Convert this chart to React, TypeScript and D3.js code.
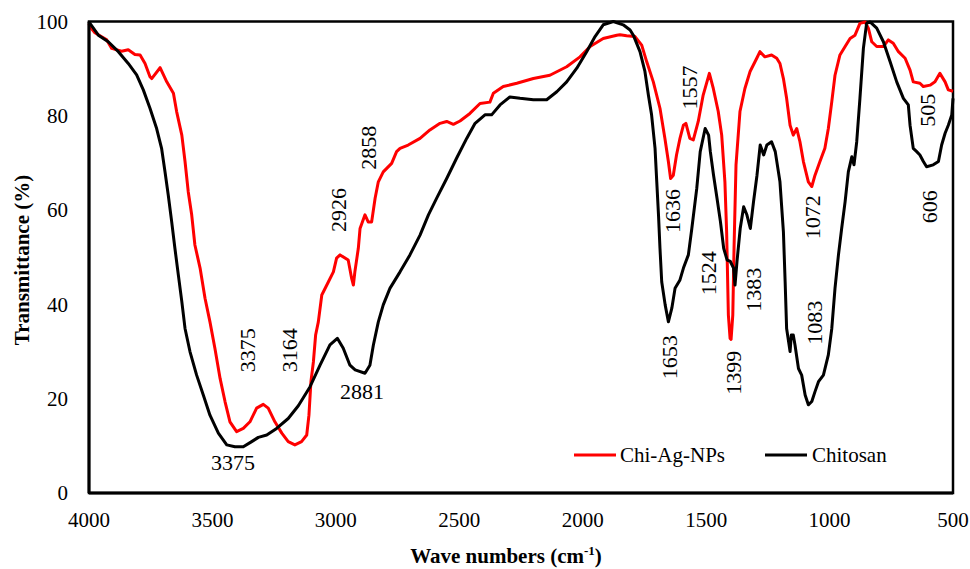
import React from "react";
import * as d3 from "d3";

const xTicks = [4000, 3500, 3000, 2500, 2000, 1500, 1000, 500];
const yTicks = [0, 20, 40, 60, 80, 100];

const chiAgNPs: [number, number][] = [
  [4000, 99.5], [3996, 98.9], [3976, 97.6], [3928, 96.1], [3908, 94.3], [3868, 93.7], [3841, 94], [3814, 93],
  [3793, 92.9], [3773, 91.1], [3753, 88.3], [3746, 87.9], [3712, 90.2], [3685, 87.2], [3658, 84.8], [3645, 80.9],
  [3624, 75.9], [3611, 70.3], [3598, 63.9], [3584, 59], [3571, 52.6], [3550, 47.7], [3530, 41.3], [3510, 36.3],
  [3490, 30.7], [3469, 24.3], [3449, 19.4], [3429, 15.1], [3402, 13], [3375, 13.7], [3348, 15.1], [3321, 18],
  [3294, 18.8], [3274, 18], [3247, 15.1], [3219, 12.7], [3193, 10.9], [3166, 10.2], [3139, 10.9], [3118, 12.3],
  [3109, 16.5], [3101, 23.6], [3091, 27.8], [3082, 33.5], [3071, 36.3], [3057, 42], [3030, 44.8], [3010, 46.9],
  [2997, 49.8], [2983, 50.5], [2950, 49.4], [2936, 45.5], [2929, 44.1], [2923, 46.9], [2909, 51.9], [2902, 56.1],
  [2882, 59], [2869, 57.5], [2855, 57.5], [2841, 62.5], [2828, 66], [2808, 68.1], [2774, 69.9], [2754, 72.4],
  [2740, 73.1], [2707, 73.8], [2659, 75.2], [2619, 77], [2578, 78.4], [2551, 78.8], [2524, 78.2], [2497, 78.9],
  [2457, 80.5], [2416, 82.6], [2376, 82.9], [2362, 84.8], [2322, 86.2], [2267, 86.9], [2200, 87.9], [2133, 88.6],
  [2065, 90.4], [2011, 92.5], [1970, 94.7], [1917, 96.4], [1862, 97.1], [1849, 97.2], [1822, 97], [1788, 96.8],
  [1761, 95], [1741, 91.5], [1714, 87.2], [1687, 81.6], [1667, 75.2], [1653, 70.3], [1644, 66.7], [1633, 67.4],
  [1620, 71.7], [1606, 75.2], [1592, 78], [1582, 78.4], [1566, 75.2], [1552, 74.9], [1532, 78.8], [1512, 84.4],
  [1487, 89], [1471, 85.8], [1451, 80.9], [1437, 75.9], [1424, 66], [1417, 55.4], [1410, 37.8], [1403, 32.8],
  [1399, 32.6], [1392, 37.8], [1387, 51.9], [1379, 69.6], [1363, 80.9], [1343, 85.8], [1322, 89.4], [1295, 92.2],
  [1282, 93.6], [1262, 92.5], [1235, 92.9], [1214, 92.2], [1201, 91.1], [1187, 87.9], [1174, 83.7], [1160, 78],
  [1147, 75.9], [1133, 77.3], [1120, 74.5], [1106, 70.3], [1086, 66], [1072, 65], [1059, 67.4], [1039, 70.3],
  [1019, 73.1], [1005, 77.3], [991, 83], [978, 88.6], [958, 92.9], [937, 94.7], [917, 96.4], [897, 97.1],
  [877, 99.6], [856, 99.9], [843, 98.6], [829, 95.7], [809, 94.7], [782, 94.7], [762, 96.1], [742, 95.4],
  [721, 93.6], [694, 92.2], [674, 89.7], [661, 87.2], [634, 86.9], [620, 86.2], [593, 86.5], [573, 87.2],
  [553, 89], [532, 87.2], [519, 85.5], [500, 85.2],
];

const chitosan: [number, number][] = [
  [4000, 100], [3996, 99.6], [3962, 97.1], [3922, 95.7], [3881, 93.6], [3841, 91.1], [3807, 88.7], [3780, 85.5],
  [3753, 81.6], [3726, 77.3], [3706, 73.1], [3692, 68.1], [3679, 63.2], [3665, 57.5], [3652, 51.9], [3638, 46.2],
  [3624, 40.6], [3611, 34.9], [3591, 30], [3564, 25], [3537, 20.8], [3510, 16.5], [3476, 12.7], [3442, 10.2],
  [3409, 9.8], [3375, 9.8], [3341, 10.9], [3314, 11.8], [3280, 12.3], [3240, 13.7], [3193, 15.8], [3152, 18.5],
  [3105, 22.5], [3064, 27.1], [3024, 31.4], [2994, 32.8], [2970, 30.7], [2943, 27.1], [2922, 26.1], [2882, 25.4],
  [2862, 27.1], [2848, 31.4], [2828, 36.3], [2808, 39.9], [2781, 43.4], [2740, 46.9], [2700, 50.5], [2659, 54.7],
  [2625, 59], [2592, 62.5], [2551, 66.7], [2511, 71], [2470, 75.2], [2436, 78.4], [2396, 80.2], [2369, 80.2],
  [2335, 82.3], [2295, 84], [2254, 83.7], [2200, 83.4], [2146, 83.4], [2105, 85.1], [2065, 87.2], [2024, 90.1],
  [1984, 93.6], [1950, 96.8], [1917, 99.3], [1876, 100], [1836, 99.3], [1808, 98.2], [1795, 97.1], [1768, 93.6],
  [1748, 89.4], [1734, 84.4], [1721, 80.2], [1707, 73.1], [1700, 66], [1693, 59], [1687, 51.9], [1680, 44.8],
  [1666, 39.9], [1653, 36.3], [1639, 39.2], [1626, 43.4], [1606, 45.2], [1592, 47.7], [1572, 50.5], [1558, 56.1],
  [1538, 64.6], [1524, 72.4], [1504, 77.3], [1490, 75.9], [1483, 72.4], [1470, 67.4], [1456, 62.5], [1442, 57.5],
  [1429, 51.9], [1415, 49.4], [1402, 49.1], [1389, 47.7], [1383, 44.1], [1375, 49.1], [1362, 56.1], [1348, 60.7],
  [1335, 59], [1321, 56.1], [1308, 61.8], [1294, 67.4], [1281, 73.8], [1267, 71.7], [1254, 73.8], [1235, 74.5],
  [1220, 72.4], [1201, 66], [1187, 55.4], [1180, 44.8], [1174, 34.9], [1160, 30], [1155, 33.5], [1147, 33.5],
  [1140, 31.4], [1126, 26.4], [1113, 25], [1099, 20.8], [1086, 18.7], [1072, 19.4], [1059, 21.5], [1045, 23.6],
  [1025, 25], [1005, 29.3], [991, 34.9], [978, 43.4], [964, 50.5], [951, 56.1], [937, 61.8], [924, 68.1],
  [910, 71.3], [901, 69.6], [890, 74.5], [877, 83.7], [863, 94.3], [850, 99.6], [836, 99.9], [809, 98.6],
  [782, 95.7], [755, 91.5], [728, 87.2], [701, 83.7], [681, 82.3], [674, 78], [661, 73.1], [647, 72.4],
  [634, 71.7], [620, 70.3], [607, 69.2], [580, 69.6], [559, 70.3], [546, 73.8], [532, 76.3], [519, 78],
  [505, 80.2], [500, 83.7],
];

// peak labels: [text, wavenumber at label centre, transmittance at label centre, rotated]
const peakLabels: [string, number, number, boolean][] = [
  ["3375", 3360, 30.3, true],
  ["3164", 3190, 30.3, true],
  ["3375", 3417, 6.5, false],
  ["2926", 2991, 60, true],
  ["2858", 2870, 73.2, true],
  ["2881", 2894, 21.6, false],
  ["1636", 1638, 59.8, true],
  ["1557", 1569, 86, true],
  ["1524", 1492, 46.6, true],
  ["1383", 1310, 43.1, true],
  ["1653", 1650, 28.8, true],
  ["1399", 1391, 25.5, true],
  ["1083", 1063, 36.1, true],
  ["1072", 1071, 58.5, true],
  ["505", 605, 81.2, true],
  ["606", 597, 60.7, true],
];

const seriesNames = ["Chi-Ag-NPs", "Chitosan"];
const seriesColors = ["#FF0000", "#000000"];

const FONT = "Liberation Serif";

export default function App() {
  const W = 970;
  const H = 569;
  const left = 89, right = 953, top = 21.5, bottom = 493;
  const x = d3.scaleLinear().domain([4000, 500]).range([left, right]);
  const y = d3.scaleLinear().domain([0, 100]).range([bottom, top]);
  const line = d3
    .line<[number, number]>()
    .x((d) => x(d[0]))
    .y((d) => y(d[1]));

  return (
    <svg
      width={W}
      height={H}
      style={{ position: "absolute", left: 0, top: 0, background: "#fff" }}
      fontFamily={FONT}
    >
      <rect x={0} y={0} width={W} height={H} fill="#fff" />
      <rect x={left} y={top} width={right - left} height={bottom - top} fill="none" stroke="#000" strokeWidth={2.5} />

      <path d={line(chiAgNPs) || ""} fill="none" stroke={seriesColors[0]} strokeWidth={3} strokeLinejoin="round" />
      <path d={line(chitosan) || ""} fill="none" stroke={seriesColors[1]} strokeWidth={3} strokeLinejoin="round" />

      <line x1={left} x2={left} y1={top} y2={bottom} stroke="#000" strokeWidth={3} />
      <line x1={left} x2={right} y1={bottom} y2={bottom} stroke="#000" strokeWidth={3} />

      {yTicks.map((t) => (
        <text key={"y" + t} x={68} y={y(t)} dy="0.35em" textAnchor="end" fontSize={21} fontFamily={FONT} fill="#000">
          {t}
        </text>
      ))}
      {xTicks.map((t) => (
        <text key={"x" + t} x={x(t)} y={527} textAnchor="middle" fontSize={21} fontFamily={FONT} fill="#000">
          {t}
        </text>
      ))}

      <text x={506} y={563} textAnchor="middle" fontSize={21} fontWeight="bold" fontFamily={FONT} fill="#000">
        Wave numbers (cm
        <tspan fontSize={13} dy={-8}>-1</tspan>
        <tspan dy={8}>)</tspan>
      </text>
      <text
        transform={`translate(29,${260}) rotate(-90)`}
        textAnchor="middle"
        fontSize={21}
        fontWeight="bold"
        fontFamily={FONT}
        fill="#000"
      >
        Transmittance (%)
      </text>

      {peakLabels.map(([t, wn, tr, rot], i) => (
        <text
          key={"p" + i}
          transform={`translate(${x(wn)},${y(tr)})${rot ? " rotate(-90)" : ""}`}
          textAnchor="middle"
          dy="0.35em"
          fontSize={22}
          fontFamily={FONT}
          fill="#000"
        >
          {t}
        </text>
      ))}

      <line x1={574} x2={616} y1={455} y2={455} stroke={seriesColors[0]} strokeWidth={3} />
      <text x={620} y={455} dy="0.35em" fontSize={21} fontFamily={FONT} fill="#000">
        {seriesNames[0]}
      </text>
      <line x1={765} x2={807} y1={455} y2={455} stroke={seriesColors[1]} strokeWidth={3} />
      <text x={812} y={455} dy="0.35em" fontSize={21} fontFamily={FONT} fill="#000">
        {seriesNames[1]}
      </text>
    </svg>
  );
}
